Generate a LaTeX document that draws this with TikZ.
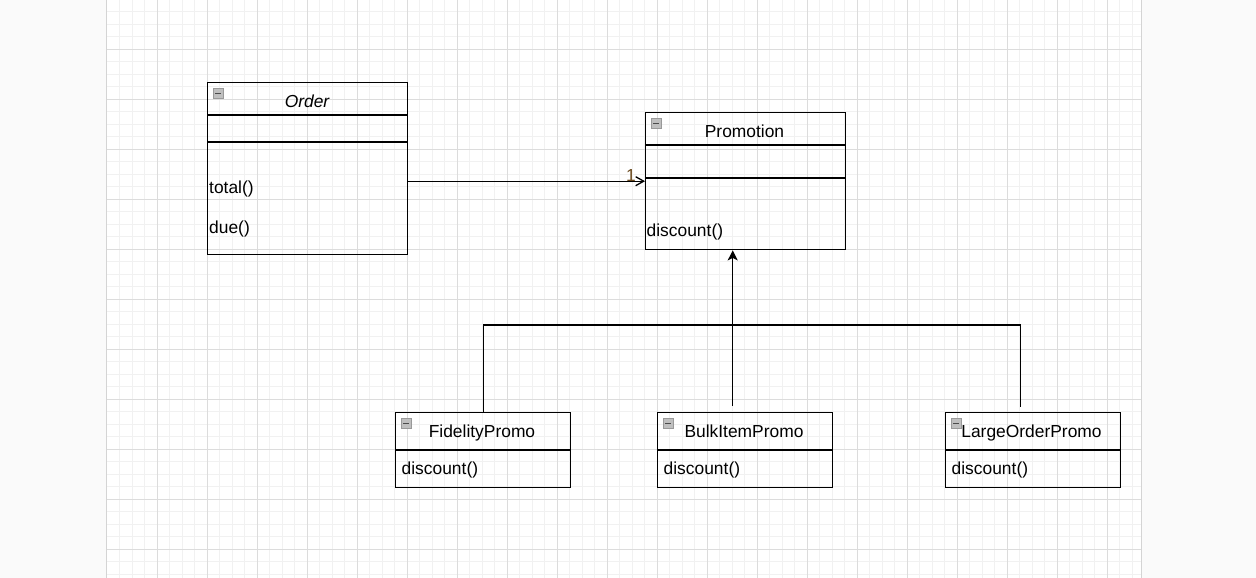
\documentclass[tikz,border=0pt]{standalone}
\usepackage{fontspec}
\setmainfont{Liberation Sans}
\usepackage{xcolor}
\usepackage{tikz}
\usetikzlibrary{arrows.meta}

\definecolor{pagebg}{HTML}{FAFAFA}
\definecolor{minorline}{HTML}{F1F1F1}
\definecolor{majorline}{HTML}{DCDCDC}
\definecolor{edgeline}{HTML}{D4D4D4}
\definecolor{multcolor}{HTML}{6B4A1E}

\tikzset{
	umlbox/.style={draw, line width=1.4pt, rectangle, inner sep=0pt, anchor=north west},
	umltext/.style={inner sep=0pt, text=black, font=\fontsize{17.4}{20}\selectfont},
	assoc/.style={line width=1.3pt, -{Straight Barb[length=8pt, width=9pt, line width=1.3pt]}},
	inherit/.style={line width=1.4pt},
	iconbox/.style={draw=gray!80, fill=gray!50, line width=0.9pt},
	iconminus/.style={draw=black!70, line width=1.3pt}
}

\begin{document}
\begin{tikzpicture}[x=1pt, y=-1pt]
		\useasboundingbox (0,0) rectangle (1256,578);

		% Canvas and grid
		\fill[pagebg] (0,0) rectangle (1256,578);
		\fill[white] (107,0) rectangle (1141,578);
		\foreach \i in {1,...,82} \draw[minorline, line width=0.9pt] ({107+12.5*\i},0) -- ++(0,578);
		\foreach \i in {1,...,46} \draw[minorline, line width=0.9pt] (107,{-1+12.5*\i}) -- (1141,{-1+12.5*\i});
		\foreach \i in {1,...,20} \draw[majorline, line width=0.9pt] ({107+50*\i},0) -- ++(0,578);
		\foreach \i in {1,...,11} \draw[majorline, line width=0.9pt] (107,{-1+50*\i}) -- (1141,{-1+50*\i});
		\draw[edgeline, line width=1pt] (106.5,0) -- (106.5,578);
		\draw[edgeline, line width=1pt] (1141,0) -- (1141,578);

		% Classes
		\node[umlbox, minimum width=200pt, minimum height=172pt] (order) at (207,82) {};
		\draw[line width=1.4pt] ([yshift=-33pt]order.north west) -- ([yshift=-33pt]order.north east);
		\draw[line width=1.4pt] ([yshift=-60pt]order.north west) -- ([yshift=-60pt]order.north east);
		\node[umlbox, minimum width=200pt, minimum height=137pt] (promotion) at (645,112) {};
		\draw[line width=1.4pt] ([yshift=-33pt]promotion.north west) -- ([yshift=-33pt]promotion.north east);
		\draw[line width=1.4pt] ([yshift=-66pt]promotion.north west) -- ([yshift=-66pt]promotion.north east);
		\node[umlbox, minimum width=175pt, minimum height=75pt] (fidelity) at (395,412) {};
		\node[umlbox, minimum width=175pt, minimum height=75pt] (bulk) at (657,412) {};
		\node[umlbox, minimum width=175pt, minimum height=75pt] (large) at (945,412) {};
		\foreach \c in {fidelity, bulk, large}
			\draw[line width=1.4pt] ([yshift=-38pt]\c.north west) -- ([yshift=-38pt]\c.north east);

		% Collapse icons
		\foreach \c in {order, promotion, fidelity, bulk, large} {
			\draw[iconbox] ([shift={(6pt,-6pt)}]\c.north west) rectangle ++(10.5,10.5);
			\draw[iconminus] ([shift={(8.3pt,-11.3pt)}]\c.north west) -- ++(6,0);
		}

		% Names and operations
		\node[umltext, anchor=base] (order-name) at (307,107) {\itshape Order};
		\node[umltext, anchor=base west] (order-total) at (209,193) {total()};
		\node[umltext, anchor=base west] (order-due) at (209,233) {due()};
		\node[umltext, anchor=base] (promotion-name) at (744.5,137) {Promotion};
		\node[umltext, anchor=base west] (promotion-op) at (646.5,236) {discount()};
		\node[umltext, anchor=base] (fidelity-name) at (482,437) {FidelityPromo};
		\node[umltext, anchor=base west] (fidelity-op) at (401.5,474) {discount()};
		\node[umltext, anchor=base] (bulk-name) at (744,437) {BulkItemPromo};
		\node[umltext, anchor=base west] (bulk-op) at (663.5,474) {discount()};
		\node[umltext, anchor=base] (large-name) at (1031.5,437) {LargeOrderPromo};
		\node[umltext, anchor=base west] (large-op) at (951.5,474) {discount()};

		% Association with multiplicity
		\draw[assoc] (order.east |- promotion.west) -- (promotion.west);
		\node[umltext, anchor=base east, text=multcolor] (mult) at ([xshift=-9pt]promotion.west) {1};

		% Generalisation
		\coordinate (bus) at (0,325);
		\draw[inherit] (fidelity.north) -- (fidelity.north |- bus) -- ([xshift=-13pt]large.north |- bus) -- ([shift={(-13pt,5pt)}]large.north);
		\draw[inherit, -{Stealth[length=10pt, width=10pt, inset=2.5pt]}] ([shift={(-12.5pt,6pt)}]bulk.north) -- ([xshift=-13pt]promotion.south);
	\end{tikzpicture}
\end{document}
